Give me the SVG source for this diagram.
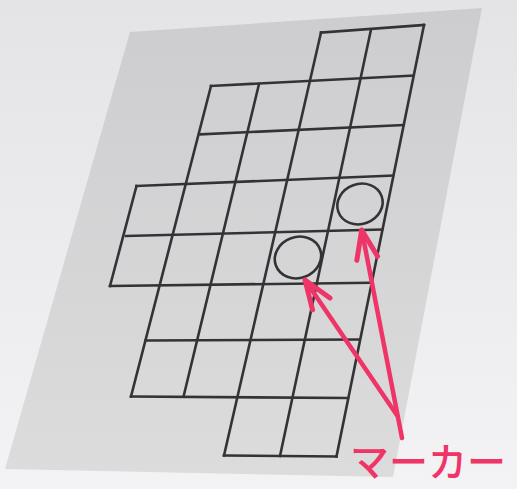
<svg xmlns="http://www.w3.org/2000/svg" width="517" height="489" viewBox="0 0 517 489">
  <defs>
    <linearGradient id="bg" x1="0" y1="0" x2="0" y2="1">
      <stop offset="0" stop-color="#e4e4e6"/>
      <stop offset="1" stop-color="#f3f2f5"/>
    </linearGradient>
    <linearGradient id="sheetFill" x1="0" y1="0" x2="0" y2="1">
      <stop offset="0" stop-color="#cdcdcf"/>
      <stop offset="1" stop-color="#dcdcdd"/>
    </linearGradient>
    <marker id="chev" markerUnits="userSpaceOnUse" markerWidth="40" markerHeight="40" viewBox="-30 -15 36 30" refX="0" refY="0" orient="auto" overflow="visible">
      <path d="M-26,-9.5 L0,0 L-26,9.5" fill="none" stroke="#ef3468" stroke-width="4.5" stroke-linecap="round" stroke-linejoin="round"/>
    </marker>
    <style>
      .grid line { stroke: #333335; stroke-width: 2.6; stroke-linecap: square; }
      .marker { fill: none; stroke: #333335; stroke-width: 2.6; }
      .arrow { fill: none; stroke: #ef3468; stroke-width: 4.5; stroke-linecap: round; marker-end: url(#chev); }
      .label { font-family: "Noto Sans CJK JP", "Noto Sans", sans-serif; font-size: 39px; font-weight: 500; fill: #ef3468; }
    </style>
  </defs>

  <rect width="517" height="489" fill="url(#bg)"/>

  <g id="sheet">
    <polygon points="130,32 482,8 393,477 5,469" fill="url(#sheetFill)"/>
  </g>

  <g id="grid" class="grid">
    <!-- row lines -->
    <line x1="321" y1="32.5" x2="424" y2="25"/>
    <line x1="211" y1="86" x2="413.5" y2="75.5"/>
    <line x1="200.5" y1="134.3" x2="403" y2="125"/>
    <line x1="136.5" y1="186" x2="393" y2="175.5"/>
    <line x1="126" y1="236" x2="382" y2="229.5"/>
    <line x1="110" y1="286" x2="371" y2="282.7"/>
    <line x1="145.7" y1="340.5" x2="359.5" y2="339.5"/>
    <line x1="131" y1="396.5" x2="348" y2="398"/>
    <line x1="224" y1="455.5" x2="336.5" y2="456.5"/>
    <!-- column lines -->
    <line x1="136.5" y1="186" x2="110" y2="286"/>
    <line x1="211" y1="86" x2="131" y2="396.5"/>
    <line x1="259" y1="84" x2="183.5" y2="396.8"/>
    <line x1="321" y1="32.5" x2="224" y2="455.5"/>
    <line x1="371" y1="29.5" x2="280" y2="456"/>
    <line x1="424" y1="25" x2="336.5" y2="456.5"/>
  </g>

  <g id="marker-1">
    <ellipse class="marker" cx="360" cy="204" rx="23" ry="20" transform="rotate(-20 360 204)"/>
  </g>
  <g id="marker-2">
    <ellipse class="marker" cx="298" cy="257.5" rx="23.5" ry="20.5" transform="rotate(-20 298 257.5)"/>
  </g>

  <g id="connectors">
    <path class="arrow" d="M397.5,416 L305,280"/>
    <path class="arrow" d="M402,438 L361.7,230"/>
  </g>

  <g id="label">
    <text class="label" x="350" y="476">マーカー</text>
  </g>
</svg>
